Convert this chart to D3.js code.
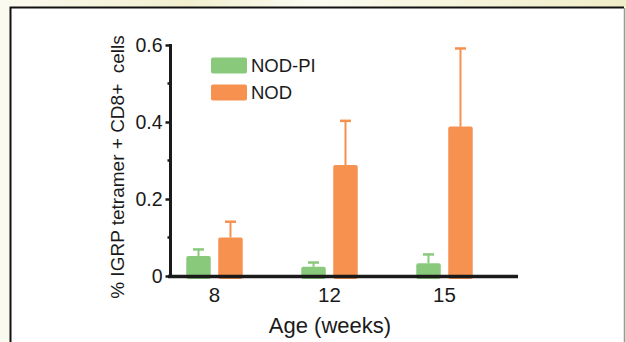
<!DOCTYPE html>
<html>
<head>
<meta charset="utf-8">
<script src="https://cdn.jsdelivr.net/npm/d3@7"></script>
<style>
  body { margin: 0; padding: 0; }
  svg { display: block; }
</style>
</head>
<body>
<div id="chart"></div>
<script>
const ages = ["8", "12", "15"];
const seriesNames = ["NOD-PI", "NOD"];
const seriesColors = ["#88c97b", "#f6914f"];
const nodPiMean = [0.052, 0.024, 0.033];
const nodPiErr = [0.069, 0.035, 0.056];
const nodMean = [0.100, 0.288, 0.388];
const nodErr = [0.141, 0.403, 0.591];
const yTicks = [0, 0.2, 0.4, 0.6];
const yMinorTicks = [0.1, 0.3, 0.5];

const W = 626, H = 342;

const svg = d3.select("#chart").append("svg")
    .attr("width", W)
    .attr("height", H);

// page background gradient
const defs = svg.append("defs");
const grad = defs.append("linearGradient")
    .attr("id", "bg")
    .attr("x1", "0%").attr("x2", "100%")
    .attr("y1", "0%").attr("y2", "0%");
[["0%", "#fbfaf0"], ["30%", "#f1efcf"], ["50%", "#fbfbf2"], ["65%", "#f7f6e2"], ["100%", "#efedc8"]]
    .forEach(s => grad.append("stop").attr("offset", s[0]).attr("stop-color", s[1]));

svg.append("rect")
    .attr("width", W).attr("height", H)
    .attr("fill", "url(#bg)");

// white panel
svg.append("rect")
    .attr("x", 10).attr("y", 7)
    .attr("width", 615).attr("height", 340)
    .attr("fill", "#fff");
svg.append("path")
    .attr("d", "M10.5,350 V7.5 H624")
    .attr("fill", "none")
    .attr("stroke", "#111")
    .attr("stroke-width", 2);
svg.append("line")
    .attr("x1", 624.5).attr("x2", 624.5)
    .attr("y1", 8).attr("y2", H)
    .attr("stroke", "#9a9a9a")
    .attr("stroke-width", 1.5);

const x0 = d3.scaleBand()
    .domain(ages)
    .range([157, 502])
    .paddingInner(0.509)
    .paddingOuter(0.2545);

const x1 = d3.scaleBand()
    .domain(seriesNames)
    .range([0, x0.bandwidth()])
    .paddingInner(0.234);

const y = d3.scaleLinear()
    .domain([0, 0.6])
    .range([276, 45]);

const font = "'Liberation Sans', Arial, Helvetica, sans-serif";

const means = [nodPiMean, nodMean];
const errs = [nodPiErr, nodErr];
const rows = [];
seriesNames.forEach((s, si) => {
    ages.forEach((a, ai) => {
        rows.push({series: s, si: si, age: a, mean: means[si][ai], err: errs[si][ai]});
    });
});

// error bars (drawn under bars)
const eb = svg.append("g");
eb.selectAll("line.stem")
    .data(rows)
    .enter().append("line")
    .attr("x1", d => x0(d.age) + x1(d.series) + x1.bandwidth() / 2)
    .attr("x2", d => x0(d.age) + x1(d.series) + x1.bandwidth() / 2)
    .attr("y1", d => y(d.mean))
    .attr("y2", d => y(d.err))
    .attr("stroke", d => seriesColors[d.si])
    .attr("stroke-width", 2);
eb.selectAll("line.cap")
    .data(rows)
    .enter().append("line")
    .attr("x1", d => x0(d.age) + x1(d.series) + x1.bandwidth() / 2 - 5.5)
    .attr("x2", d => x0(d.age) + x1(d.series) + x1.bandwidth() / 2 + 5.5)
    .attr("y1", d => y(d.err))
    .attr("y2", d => y(d.err))
    .attr("stroke", d => seriesColors[d.si])
    .attr("stroke-width", 2.5);

// bars
svg.append("g").selectAll("rect")
    .data(rows)
    .enter().append("rect")
    .attr("x", d => x0(d.age) + x1(d.series))
    .attr("y", d => y(d.mean))
    .attr("width", x1.bandwidth())
    .attr("height", d => y(0) - y(d.mean) + 3)
    .attr("rx", 2)
    .attr("fill", d => seriesColors[d.si]);

// y axis
const yAxis = svg.append("g")
    .attr("transform", "translate(170.5,0)")
    .call(d3.axisLeft(y).tickValues(yTicks).tickSize(5).tickPadding(3)
        .tickFormat(d => d === 0 ? "0" : d3.format(".1f")(d)));
yAxis.select(".domain").remove();
yAxis.selectAll(".tick line").attr("stroke", "#1a1a1a").attr("stroke-width", 2.5);
yAxis.selectAll(".tick text")
    .attr("font-family", font)
    .attr("font-size", 19.5)
    .attr("fill", "#1a1a1a");
yAxis.selectAll(".minor")
    .data(yMinorTicks)
    .enter().append("line")
    .attr("x1", -3).attr("x2", 0)
    .attr("y1", d => y(d)).attr("y2", d => y(d))
    .attr("stroke", "#1a1a1a")
    .attr("stroke-width", 2.5);
yAxis.append("line")
    .attr("x1", 0).attr("x2", 0)
    .attr("y1", y(0.6) - 1).attr("y2", y(0) + 1)
    .attr("stroke", "#1a1a1a")
    .attr("stroke-width", 3);

// x axis
const xAxis = svg.append("g")
    .attr("transform", "translate(0,276.5)")
    .call(d3.axisBottom(x0).tickSize(0).tickPadding(11));
xAxis.select(".domain").remove();
xAxis.selectAll(".tick text")
    .attr("font-family", font)
    .attr("font-size", 20.5)
    .attr("fill", "#1a1a1a");
xAxis.append("line")
    .attr("x1", 168).attr("x2", 518)
    .attr("y1", 0).attr("y2", 0)
    .attr("stroke", "#1a1a1a")
    .attr("stroke-width", 3.5);

// axis titles
svg.append("text")
    .attr("x", 330).attr("y", 333)
    .attr("text-anchor", "middle")
    .attr("font-family", font)
    .attr("font-size", 22)
    .attr("fill", "#1a1a1a")
    .text("Age (weeks)");

svg.append("text")
    .attr("transform", "translate(124,167) rotate(-90)")
    .attr("text-anchor", "middle")
    .attr("font-family", font)
    .attr("font-size", 19)
    .attr("fill", "#1a1a1a")
    .style("white-space", "pre")
    .text("% IGRP tetramer + CD8+  cells");

// legend
const legend = svg.append("g")
    .attr("transform", "translate(211,57.5)");
const li = legend.selectAll("g")
    .data(seriesNames)
    .enter().append("g")
    .attr("transform", (d, i) => `translate(0,${i * 27})`);
li.append("rect")
    .attr("width", 36).attr("height", 16)
    .attr("rx", 2)
    .attr("fill", (d, i) => seriesColors[i]);
li.append("text")
    .attr("x", 40).attr("y", 14.5)
    .attr("font-family", font)
    .attr("font-size", 18.5)
    .attr("fill", "#1a1a1a")
    .text(d => d);
</script>
</body>
</html>
